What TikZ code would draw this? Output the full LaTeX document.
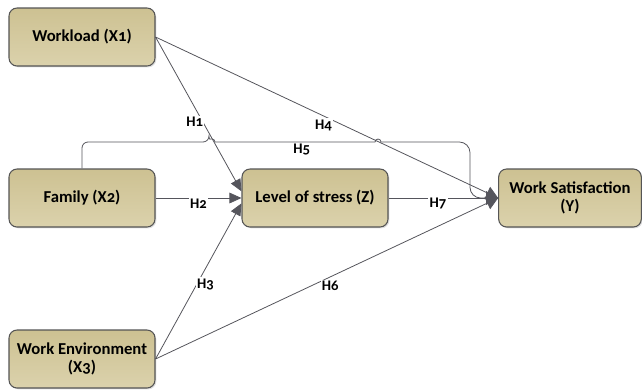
\documentclass[tikz,border=0pt]{standalone}
\usepackage{fontspec}
\setmainfont[Numbers=OldStyle]{Carlito}
\usetikzlibrary{arrows.meta,shadows}

\definecolor{boxtop}{RGB}{205,193,146}
\definecolor{boxbot}{RGB}{219,210,172}
\definecolor{boxline}{RGB}{85,85,85}
\definecolor{linkgray}{RGB}{100,100,104}
\definecolor{tipgray}{RGB}{85,85,92}

\tikzset{
  factor/.style={draw=boxline, line width=0.8pt, rounded corners=6pt,
    top color=boxtop, bottom color=boxbot, align=center,
    minimum width=109.5pt, minimum height=43.5pt,
    font=\bfseries\fontsize{12.5}{14}\selectfont,
    drop shadow={opacity=0.25, shadow xshift=1pt, shadow yshift=-1pt}},
  link/.style={draw=linkgray, line width=0.6pt},
  tostress/.style={link, -{Triangle[length=9pt,width=8pt]}, tipgray},
  tosat/.style={link, -{Triangle[length=9pt,width=10pt]}, tipgray},
  hyp/.style={fill=white, inner sep=1pt, text=black,
    font=\bfseries\fontsize{11}{12}\selectfont}
}

\begin{document}
\begin{tikzpicture}[x=0.75pt,y=-0.75pt]
    \useasboundingbox (0,0) rectangle (642,390);

    % boxes
    \node [factor] (work) at ( 82, 37 ) {Workload (X1)};
    \node [factor] (fam) at ( 82, 198 ) {Family (X2)};
    \node [factor] (env) at ( 82, 359 ) {Work Environment\\(X3)};
    \node [factor] (stress) at ( 315, 198 ) {Level of stress (Z)};
    \node [factor, minimum width=107pt] (sat) at ( 570, 198 ) {Work Satisfaction\\(Y)};

    % H5 with line jumps
    \draw [link, -{Triangle[length=9pt,width=10pt]}, tipgray]
        (fam.north) [rounded corners=4.5pt] |- ( 209, 142 ) [sharp corners]
        arc [start angle=180, end angle=0, radius=2.25pt]
        -- ( 375, 142 ) node [hyp, midway, below=0.5pt, xshift=5pt] {H5}
        arc [start angle=180, end angle=0, radius=2.25pt]
        [rounded corners=8pt] -- ( 470, 142 ) |- (sat.west);

    % paths to stress
    \draw [tostress] (work.east) -- ([yshift=5pt]stress.west) node [hyp, pos=0.55, xshift=-6pt] {H1};
    \draw [tostress] (fam.east) -- (stress.west) node [hyp, midway, yshift=-4pt] {H2};
    \draw [tostress] (env.east) -- ([yshift=-4pt]stress.west) node [hyp, pos=0.48, anchor=west, xshift=-1pt] {H3};

    % paths to satisfaction
    \draw [tosat] (work.east) -- (sat.west) node [hyp, pos=0.49, anchor=north, yshift=-1.5pt] {H4};
    \draw [tosat] (env.east) -- (sat.west) node [hyp, pos=0.51, anchor=north, yshift=-2pt] {H6};
    \draw [tosat] (stress.east) -- (sat.west) node [hyp, pos=0.45, yshift=-4pt] {H7};
\end{tikzpicture}
\end{document}
